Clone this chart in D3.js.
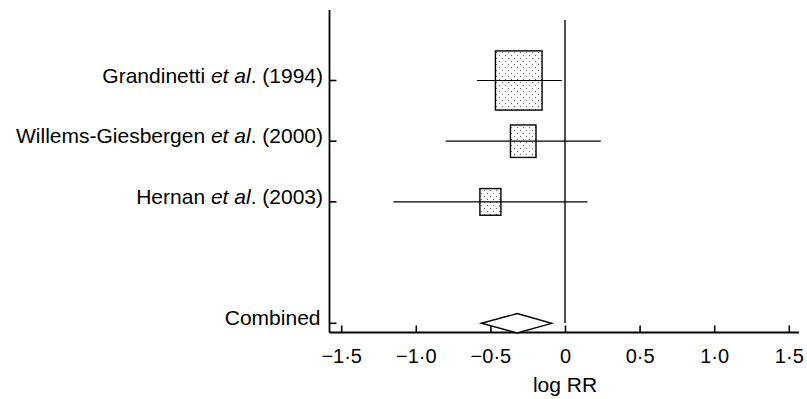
<!DOCTYPE html>
<html>
<head>
<meta charset="utf-8">
<script src="https://cdn.jsdelivr.net/npm/d3@7"></script>
<style>
    body { margin: 0; background: #fff; }
    svg { display: block; font-family: "Liberation Sans", Arial, sans-serif; }
</style>
</head>
<body>
<svg id="chart" width="807" height="399"></svg>
<script>
(function () {
    'use strict';

    // data (log RR scale)
    var studies = ['Grandinetti', 'Willems-Giesbergen', 'Hernan'];
    var years = ['1994', '2000', '2003'];
    var estimates = [-0.31, -0.28, -0.50];
    var lower = [-0.59, -0.80, -1.15];
    var upper = [-0.02, 0.24, 0.15];
    var weights = [66.5, 20.0, 13.5];

    var combinedEst = -0.32,
        combinedLo = -0.56,
        combinedHi = -0.09;

    var tickValues = [-1.5, -1.0, -0.5, 0, 0.5, 1.0, 1.5];
    var tickLabels = ['\u22121\u00b75', '\u22121\u00b70', '\u22120\u00b75', '0', '0\u00b75', '1\u00b70', '1\u00b75'];

    // layout
    var axisX = 329.5,
        axisTop = 10,
        axisBottom = 332.5,
        plotRight = 799;

    var svg = d3.select('#chart');

    var x = d3.scaleLinear()
        .domain([0, 1])
        .range([565, 714.2]);

    // row 1..3 are studies, row 5 is the combined estimate
    var y = d3.scaleLinear()
        .domain([1, 5])
        .range([80.5, 323.3]);

    var boxW = d3.scaleSqrt()
        .domain([0, d3.max(weights)])
        .range([0, 46.6]);

    // dotted fill pattern
    var pat = svg.append('defs').append('pattern')
        .attr('id', 'dots')
        .attr('patternUnits', 'userSpaceOnUse')
        .attr('width', 6)
        .attr('height', 6);
    pat.append('rect').attr('x', 1).attr('y', 1).attr('width', 1).attr('height', 1).attr('fill', '#666');
    pat.append('rect').attr('x', 4).attr('y', 4).attr('width', 1).attr('height', 1).attr('fill', '#666');

    // zero line
    svg.append('line')
        .attr('x1', x(0)).attr('x2', x(0))
        .attr('y1', 20).attr('y2', 323)
        .attr('stroke', '#000').attr('stroke-width', 1.4);

    // x axis
    var xAxis = d3.axisBottom(x)
        .tickValues(tickValues)
        .tickSizeInner(-7)
        .tickSizeOuter(0)
        .tickPadding(16)
        .tickFormat(function (d, i) { return tickLabels[i]; });

    var gx = svg.append('g')
        .attr('transform', 'translate(0,' + axisBottom + ')')
        .call(xAxis);
    gx.select('.domain').remove();
    gx.selectAll('.tick line').attr('stroke', '#000').attr('stroke-width', 1.6);
    gx.selectAll('.tick text')
        .attr('font-size', 20)
        .attr('fill', '#000')
        .attr('font-family', '"Liberation Sans", Arial, sans-serif');

    svg.append('line')
        .attr('x1', axisX).attr('x2', plotRight)
        .attr('y1', axisBottom).attr('y2', axisBottom)
        .attr('stroke', '#000').attr('stroke-width', 1.8);

    svg.append('line')
        .attr('x1', axisX).attr('x2', axisX)
        .attr('y1', axisTop).attr('y2', axisBottom)
        .attr('stroke', '#000').attr('stroke-width', 1.8);

    svg.append('text')
        .attr('x', x(0))
        .attr('y', 392)
        .attr('text-anchor', 'middle')
        .attr('font-size', 21)
        .text('log RR');

    // study rows
    var rows = svg.append('g').selectAll('g')
        .data(studies)
        .join('g');

    rows.append('line')
        .attr('x1', axisX).attr('x2', axisX + 7)
        .attr('y1', function (d, i) { return y(i + 1); })
        .attr('y2', function (d, i) { return y(i + 1); })
        .attr('stroke', '#000').attr('stroke-width', 1.6);

    var labels = rows.append('text')
        .attr('x', axisX - 6.5)
        .attr('y', function (d, i) { return y(i + 1) + 2; })
        .attr('text-anchor', 'end')
        .attr('font-size', 21);
    labels.append('tspan').text(function (d) { return d + ' '; });
    labels.append('tspan').attr('font-style', 'italic').text('et al');
    labels.append('tspan').text(function (d, i) { return '. (' + years[i] + ')'; });

    rows.append('rect')
        .attr('x', function (d, i) { return x(estimates[i]) - boxW(weights[i]) / 2; })
        .attr('y', function (d, i) { return y(i + 1) - boxW(weights[i]) * 0.635; })
        .attr('width', function (d, i) { return boxW(weights[i]); })
        .attr('height', function (d, i) { return boxW(weights[i]) * 1.27; })
        .attr('fill', 'url(#dots)')
        .attr('stroke', '#000')
        .attr('stroke-width', 1.4);

    rows.append('line')
        .attr('x1', function (d, i) { return x(lower[i]); })
        .attr('x2', function (d, i) { return x(upper[i]); })
        .attr('y1', function (d, i) { return y(i + 1); })
        .attr('y2', function (d, i) { return y(i + 1); })
        .attr('stroke', '#000').attr('stroke-width', 1.2);

    // combined estimate
    var cy = y(5);
    svg.append('line')
        .attr('x1', axisX).attr('x2', axisX + 7)
        .attr('y1', cy).attr('y2', cy)
        .attr('stroke', '#000').attr('stroke-width', 1.6);

    svg.append('text')
        .attr('x', axisX - 9)
        .attr('y', cy + 1.2)
        .attr('text-anchor', 'end')
        .attr('font-size', 21)
        .text('Combined');

    svg.append('path')
        .attr('d', d3.line()([
            [x(combinedLo), cy],
            [x(combinedEst), cy - 9.7],
            [x(combinedHi), cy],
            [x(combinedEst), cy + 9.7]
        ]) + 'Z')
        .attr('fill', '#fff')
        .attr('stroke', '#000')
        .attr('stroke-width', 1.4);
}());
</script>
</body>
</html>
